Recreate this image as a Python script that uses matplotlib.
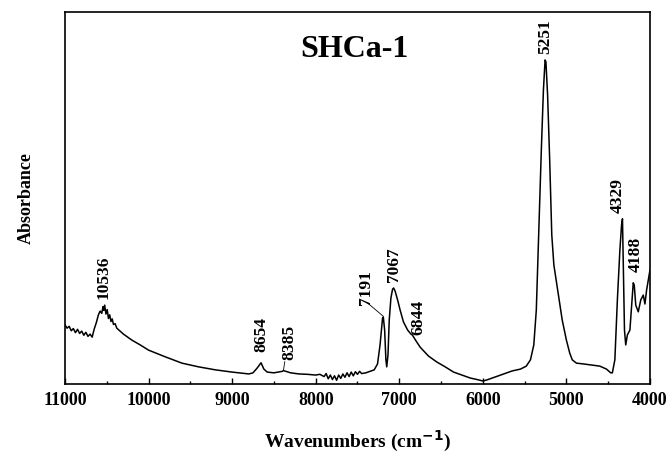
import matplotlib
matplotlib.use("Agg")
import matplotlib.pyplot as plt
from matplotlib.ticker import MultipleLocator

plt.rcParams['font.family'] = ['Liberation Serif', 'DejaVu Serif']
plt.rcParams['font.weight'] = 'bold'

# wavenumber (cm-1) and absorbance (arbitrary units)
wavenumber = [
    11000, 10975, 10950, 10925, 10900, 10875, 10850, 10825, 10800, 10775, 10750, 10725,
    10700, 10675, 10650, 10625, 10600, 10580, 10560, 10545, 10536, 10525, 10510, 10495,
    10480, 10465, 10450, 10435, 10420, 10400, 10380, 10300, 10200, 10100, 10000, 9800,
    9600, 9400, 9200, 9000, 8800, 8750, 8700, 8654, 8620, 8580, 8500, 8400, 8385, 8300,
    8200, 8100, 8000, 7950, 7900, 7875, 7850, 7825, 7800, 7775, 7750, 7725, 7700, 7675,
    7650, 7625, 7600, 7575, 7550, 7525, 7500, 7475, 7450, 7400, 7350, 7300, 7260, 7230,
    7200, 7191, 7175, 7160, 7150, 7135, 7120, 7100, 7080, 7067, 7050, 7020, 6990, 6950,
    6900, 6860, 6844, 6800, 6750, 6650, 6550, 6450, 6350, 6250, 6150, 6050, 6000, 5950,
    5850, 5750, 5650, 5550, 5480, 5430, 5390, 5360, 5330, 5300, 5275, 5255, 5245, 5225,
    5200, 5175, 5150, 5100, 5050, 5000, 4960, 4930, 4880, 4800, 4700, 4600, 4520, 4470,
    4450, 4420, 4390, 4360, 4340, 4329, 4320, 4305, 4290, 4270, 4240, 4215, 4200, 4188,
    4170, 4140, 4110, 4080, 4060, 4040, 4020, 4000,
]
absorbance = [
    0.159, 0.150, 0.155, 0.143, 0.149, 0.138, 0.147, 0.136, 0.142, 0.131, 0.139, 0.128,
    0.134, 0.126, 0.148, 0.165, 0.186, 0.196, 0.190, 0.208, 0.198, 0.212, 0.188, 0.200,
    0.176, 0.186, 0.168, 0.175, 0.160, 0.162, 0.150, 0.134, 0.118, 0.105, 0.091, 0.073,
    0.056, 0.046, 0.038, 0.032, 0.027, 0.030, 0.043, 0.057, 0.040, 0.032, 0.030, 0.034,
    0.036, 0.030, 0.027, 0.026, 0.024, 0.026, 0.020, 0.028, 0.014, 0.024, 0.012, 0.022,
    0.010, 0.024, 0.015, 0.027, 0.018, 0.030, 0.020, 0.032, 0.022, 0.033, 0.026, 0.034,
    0.028, 0.030, 0.034, 0.038, 0.054, 0.105, 0.177, 0.180, 0.145, 0.065, 0.046, 0.078,
    0.172, 0.231, 0.255, 0.258, 0.250, 0.226, 0.199, 0.167, 0.145, 0.134, 0.132, 0.116,
    0.099, 0.075, 0.059, 0.046, 0.032, 0.024, 0.016, 0.011, 0.008, 0.011, 0.019, 0.027,
    0.035, 0.040, 0.048, 0.065, 0.105, 0.199, 0.414, 0.629, 0.790, 0.871, 0.866, 0.777,
    0.602, 0.401, 0.320, 0.245, 0.172, 0.118, 0.083, 0.065, 0.056, 0.054, 0.051, 0.048,
    0.040, 0.030, 0.030, 0.065, 0.226, 0.360, 0.427, 0.444, 0.333, 0.145, 0.105, 0.132,
    0.145, 0.226, 0.272, 0.266, 0.212, 0.194, 0.226, 0.239, 0.215, 0.253, 0.280, 0.306,
]

# peak labels: text, peak wavenumber, label x, label bottom y, leader line
peak_labels = ["10536", "8654", "8385", "7191", "7067", "6844", "5251", "4329", "4188"]
peak_wn = [10536, 8654, 8385, 7191, 7067, 6844, 5251, 4329, 4188]
label_wn = [10536, 8654, 8310, 7400, 7067, 6770, 5251, 4380, 4170]
label_y = [0.228, 0.085, 0.065, 0.212, 0.275, 0.132, 0.887, 0.460, 0.302]
leader = [False, False, True, True, False, False, False, False, False]

xticks = [11000, 10000, 9000, 8000, 7000, 6000, 5000, 4000]

fig = plt.figure(figsize=(6.68, 4.58), dpi=100)
ax = fig.add_axes([0.0973, 0.1616, 0.8757, 0.8122])
ax.plot(wavenumber, absorbance, color='black', lw=1.1)
ax.set_xlim(11000, 4000)
ax.set_ylim(0, 1)
ax.set_xticks(xticks)
ax.set_xticklabels([str(t) for t in xticks])
ax.xaxis.set_minor_locator(MultipleLocator(500))
ax.set_yticks([])
ax.tick_params(axis='x', which='major', direction='in', length=4.5, width=1.0,
               labelsize=13, pad=6)
ax.tick_params(axis='x', which='minor', direction='in', length=2.5, width=1.0)
for lab in ax.get_xticklabels():
    lab.set_fontweight('bold')
for s in ax.spines.values():
    s.set_linewidth(1.2)

curve = dict(zip(wavenumber, absorbance))
for txt, pw, lx, ly, ld in zip(peak_labels, peak_wn, label_wn, label_y, leader):
    ax.text(lx, ly, txt, rotation=90, ha='center', va='bottom',
            fontsize=12.5, fontweight='bold')
    if ld:
        if pw > 8000:
            ax.plot([lx + 60, pw], [ly - 0.005, curve[pw] + 0.002], color='black', lw=0.6)
        else:
            ax.plot([lx - 25, pw], [ly + 0.005, curve[pw] + 0.002], color='black', lw=0.6)

ax.text(0.494, 0.90, "SHCa-1", transform=ax.transAxes, ha='center', va='center',
        fontsize=23, fontweight='bold')
ax.set_xlabel("Wavenumbers (cm$^{\\mathbf{-1}}$)", fontsize=14, fontweight='bold', labelpad=14)
ax.set_ylabel("Absorbance", fontsize=13, fontweight='bold', labelpad=22)

fig.savefig("out.png", dpi=100)
